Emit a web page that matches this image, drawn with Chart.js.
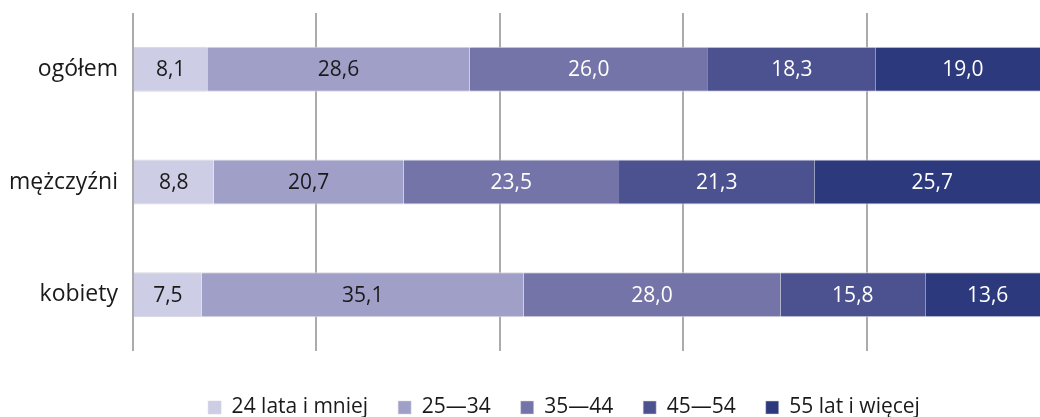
<!DOCTYPE html>
<html>
<head>
<meta charset="utf-8">
<script src="https://cdn.jsdelivr.net/npm/chart.js@4.4.1/dist/chart.umd.min.js"></script>
<style>
    html, body { margin: 0; padding: 0; background: #fff; overflow: hidden; }
    #wrap { position: relative; width: 1050px; height: 417px; }
</style>
</head>
<body>
<div id="wrap"><canvas id="ageChart"></canvas></div>
<script>
// dane: struktura wieku (%)
const categories = ['ogółem', 'mężczyźni', 'kobiety'];
const ageGroups = ['24 lata i mniej', '25—34', '35—44', '45—54', '55 lat i więcej'];
const age24 = [8.1, 8.8, 7.5];
const age25_34 = [28.6, 20.7, 35.1];
const age35_44 = [26.0, 23.5, 28.0];
const age45_54 = [18.3, 21.3, 15.8];
const age55 = [19.0, 25.7, 13.6];
const xTicks = [0, 20, 40, 60, 80, 100];

const seriesValues = [age24, age25_34, age35_44, age45_54, age55];
const colors = ['#cdcde5', '#a09fc8', '#7474a8', '#4c5190', '#2d397d'];
const FONT = '"Open Sans", "Noto Sans", sans-serif';

// podpisy wartości na słupkach
const barValueLabels = {
    id: 'barValueLabels',
    afterDatasetsDraw(chart) {
        const ctx = chart.ctx;
        ctx.save();
        ctx.font = '21px ' + FONT;
        ctx.textAlign = 'center';
        ctx.textBaseline = 'middle';
        chart.data.datasets.forEach((ds, i) => {
            chart.getDatasetMeta(i).data.forEach((bar, j) => {
                const p = bar.getProps(['x', 'y', 'base'], true);
                ctx.fillStyle = i < 2 ? '#1a1a1a' : '#ffffff';
                ctx.fillText(ds.data[j].toFixed(1).replace('.', ','), (p.x + p.base) / 2, p.y + 1);
            });
        });
        ctx.restore();
    }
};

// przesunięcie legendy
const legendShift = {
    id: 'legendShift',
    afterLayout(chart) {
        const l = chart.legend;
        l.left += 39; l.right += 39;
        l.top += 16; l.bottom += 16;
    }
};

new Chart(document.getElementById('ageChart'), {
    type: 'bar',
    data: {
        labels: categories,
        datasets: seriesValues.map((vals, i) => ({
            label: ageGroups[i],
            data: vals,
            backgroundColor: colors[i],
            borderColor: '#d6d6e0',
            borderWidth: { top: 1, bottom: 1, left: 0, right: 0 },
            borderSkipped: false,
            barPercentage: 0.4,
            categoryPercentage: 1.0
        }))
    },
    options: {
        indexAxis: 'y',
        responsive: true,
        maintainAspectRatio: false,
        animation: false,
        layout: { padding: { top: 13, bottom: 5 } },
        plugins: {
            legend: {
                position: 'bottom',
                labels: {
                    boxWidth: 13,
                    boxHeight: 13,
                    padding: 30,
                    color: '#1a1a1a',
                    font: { family: FONT, size: 21 }
                }
            },
            tooltip: { enabled: false }
        },
        scales: {
            x: {
                stacked: true,
                min: 0,
                max: 100,
                afterBuildTicks: scale => { scale.ticks = xTicks.map(v => ({ value: v })); },
                ticks: { display: false },
                grid: { color: '#ababab', lineWidth: 2, drawTicks: false },
                border: { display: false }
            },
            y: {
                stacked: true,
                afterFit: scale => {
                    scale.width = 133;
                    scale.paddingTop = 0;
                    scale.paddingBottom = 0;
                },
                ticks: {
                    padding: 15,
                    color: '#1a1a1a',
                    font: { family: FONT, size: 23 }
                },
                grid: { display: false, drawTicks: false },
                border: { display: false }
            }
        }
    },
    plugins: [barValueLabels, legendShift]
});
</script>
</body>
</html>
